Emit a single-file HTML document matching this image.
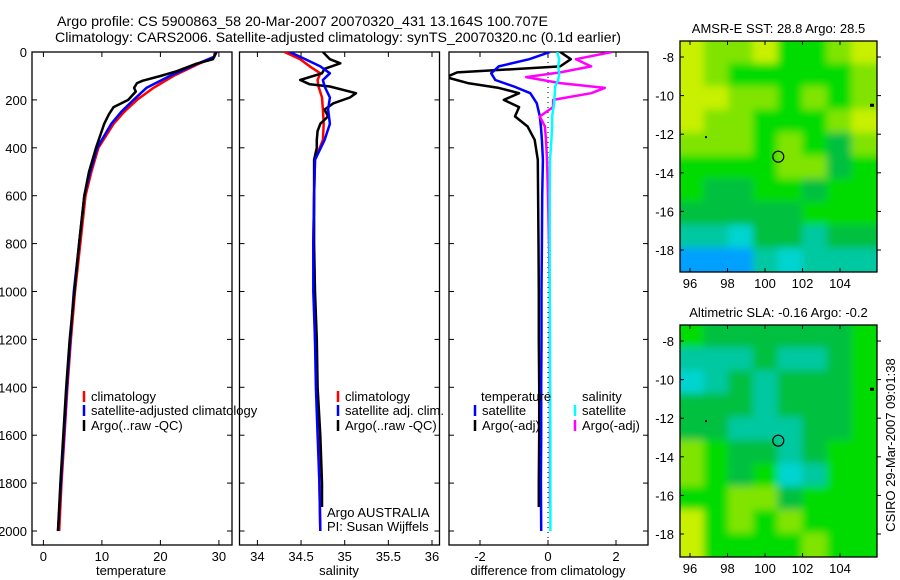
<!DOCTYPE html>
<html><head><meta charset="utf-8">
<style>
html,body{margin:0;padding:0;background:#fff;}
svg{display:block;font-family:"Liberation Sans",sans-serif;}
text{font-size:13px;fill:#000;}
</style></head>
<body>
<svg id="chart" width="900" height="580" viewBox="0 0 900 580" xmlns="http://www.w3.org/2000/svg">
<defs>
<filter id="blur1" filterUnits="userSpaceOnUse" x="600" y="0" width="300" height="580"><feGaussianBlur stdDeviation="4"/></filter>
<clipPath id="clipMap1"><rect x="680" y="41" width="197" height="231"/></clipPath>
<clipPath id="clipMap2"><rect x="680" y="325" width="197" height="232"/></clipPath>
<clipPath id="clipP1"><rect x="32" y="52" width="200" height="493"/></clipPath>
<clipPath id="clipP2"><rect x="239" y="52" width="201" height="493"/></clipPath>
<clipPath id="clipP3"><rect x="449" y="52" width="199" height="493"/></clipPath>
</defs>
<text x="57" y="26" textLength="491" lengthAdjust="spacingAndGlyphs" style="font-size:14px">Argo profile: CS 5900863_58 20-Mar-2007 20070320_431 13.164S 100.707E</text>
<text x="55" y="42" textLength="566" lengthAdjust="spacingAndGlyphs" style="font-size:14px">Climatology: CARS2006. Satellite-adjusted climatology: synTS_20070320.nc (0.1d earlier)</text>
<g id="g1"></g>
<g id="g2"></g>
<g id="g3"></g>
<g id="gm1"></g>
<g id="gm2"></g>
<text transform="translate(895,445) rotate(-90)" text-anchor="middle" style="font-size:13px">CSIRO 29-Mar-2007 09:01:38</text>
</svg>
<script>
// ---- data ----
const depthTicks=[0,200,400,600,800,1000,1200,1400,1600,1800,2000];
const tempTicks=[0,10,20,30];
const salTicks=[34,34.5,35,35.5,36];
const diffTicks=[-2,0,2];
const lonTicks=[96,98,100,102,104];
const latTicks=[-8,-10,-12,-14,-16,-18];

const tClimDepth=[0,20,50,100,150,200,250,300,400,500,600,800,1000,1200,1400,1600,1800,2000];
const tClim=[29.3,29.2,26.5,22.2,18.8,16.0,13.8,12.0,9.4,8.2,7.2,6.3,5.4,4.7,4.1,3.6,3.1,2.7];
const tSat=[29.4,29.2,26.2,21.6,17.6,15.4,13.3,11.6,9.2,8.0,7.0,6.1,5.2,4.6,4.0,3.5,3.0,2.5];
const tArgoDepth=[0,30,50,80,100,120,130,150,165,200,230,260,300,400,500,600,800,1000,1200,1400,1600,1800,2000];
const tArgo=[29.6,29.0,26.0,22.8,20.0,17.0,16.0,15.5,15.8,14.5,12.0,11.2,10.4,9.0,7.8,7.0,6.1,5.3,4.5,3.9,3.4,2.9,2.5];

const sDepth=[0,30,60,89,117,144,190,240,300,367,450,600,800,1000,1200,1400,1600,1800,2000];
const sClim=[34.31,34.49,34.60,34.72,34.69,34.70,34.74,34.75,34.76,34.75,34.66,34.65,34.64,34.65,34.66,34.68,34.70,34.71,34.72];
const sSat=[34.37,34.55,34.72,34.83,34.75,34.77,34.83,34.81,34.83,34.77,34.66,34.65,34.64,34.64,34.66,34.67,34.69,34.71,34.72];
const sArgoDepth=[0,30,47,70,89,117,135,144,172,190,214,240,269,300,330,367,400,450,600,800,1000,1200,1400,1600,1800,1900];
const sArgo=[34.75,34.83,34.95,34.77,34.74,34.49,34.60,34.83,35.13,35.06,34.87,34.77,34.81,34.72,34.69,34.68,34.68,34.65,34.65,34.65,34.66,34.68,34.69,34.72,34.74,34.74];

const dDepth=[0,30,60,89,117,144,172,214,269,311,367,450,600,800,1000,1200,1400,1600,1800,2000];
const dTSat=[0.06,-0.55,-1.45,-1.67,-1.55,-1.0,-0.52,-0.33,-0.24,-0.21,-0.18,-0.15,-0.17,-0.18,-0.19,-0.19,-0.2,-0.2,-0.21,-0.2];
const dDepthA=[0,30,60,85,105,130,150,172,200,230,269,311,367,450,600,800,1000,1200,1400,1600,1800,1900];
const dTArgo=[0.36,0.67,0.36,-2.67,-3.0,-2.36,-1.45,-0.85,-1.3,-0.85,-0.97,-0.6,-0.39,-0.3,-0.29,-0.28,-0.27,-0.27,-0.26,-0.26,-0.27,-0.27];
const dSArgo=[1.88,0.82,1.27,0.36,-0.64,0.36,1.67,1.27,0.15,0.15,-0.24,-0.09,-0.06,-0.03,0.0,0.03,0.05,0.05,0.06,0.06,0.06,0.06];
const dSSat=[0.27,0.33,0.3,0.33,0.3,0.21,0.2,0.18,0.12,0.12,0.1,0.06,0.05,0.05,0.05,0.06,0.06,0.07,0.07,0.07];

// map colour grids (rows north->south); letters = colour classes
const map1Rows=["YLLYGGLY","YLGGGGGL","YYLLGLGL","YLLGGGLY","LLLGLGDL","GGGGLLDG","GDDGGDGG","DDDDDGGG","CCTDDCDD","BBBCTCCC"];
const map2Rows=["GDDDDDDG","CCCDCCDG","TCDCDDDG","DDDCDDDG","DDCCCDDG","LGDDCDGG","LGDGTCGG","GGLLDGGG","YGLGLGGG","YGGGGLGG"];
const colorKey={Y:"#c8f000",L:"#80e400",G:"#00dc00",D:"#00c040",C:"#00c8a0",T:"#00d4d0",B:"#00a0ff"};
const floatLon=100.707, floatLat=-13.164;

// ---- scales ----
const NS="http://www.w3.org/2000/svg";
function el(tag,attrs,parent){const e=document.createElementNS(NS,tag);for(const k in attrs)e.setAttribute(k,attrs[k]);parent.appendChild(e);return e;}
const yD=d=>52+d*0.2395;
const xT=t=>43.4+t*5.85;
const xS=s=>344.7+(s-35)*87.3;
const xDf=v=>548+v*34;
const lonX=l=>690+(l-96)*18.75;
const lat1Y=l=>57+(-8-l)*19.3;
const lat2Y=l=>341+(-8-l)*19.3;

function frame(g,x0,x1,y0,y1,name){
  const r=el('rect',{x:x0,y:y0,width:x1-x0,height:y1-y0,fill:'none',stroke:'#000','stroke-width':1.3},g);
  
  
}
function line(g,xs,ys,fx,color,w,name,clip){
  const pts=xs.map((v,i)=>fx(v).toFixed(1)+','+yD(ys[i]).toFixed(1)).join(' ');
  const p=el('polyline',{points:pts,fill:'none',stroke:color,'stroke-width':w,'stroke-linejoin':'round','clip-path':'url(#'+clip+')'},g);
  
  
}
function txt(g,x,y,s,anchor,name){
  const t=el('text',{x:x,y:y,'text-anchor':anchor||'start'},g);t.textContent=s;
  
  
  return t;
}
function xticks(g,ticks,fx,y0,y1,name){
  ticks.forEach(v=>{const x=fx(v);
    el('line',{x1:x,x2:x,y1:y1,y2:y1-5,stroke:'#000'},g);
    el('line',{x1:x,x2:x,y1:y0,y2:y0+5,stroke:'#000'},g);
    txt(g,x,y1+16,String(v),'middle',name);
  });
}
function yticks(g,x0,x1,labels){
  depthTicks.forEach(d=>{const y=yD(d);
    el('line',{x1:x0,x2:x0+5,y1:y,y2:y,stroke:'#000'},g);
    el('line',{x1:x1,x2:x1-5,y1:y,y2:y,stroke:'#000'},g);
    if(labels)txt(g,x0-5,y+5,String(d),'end','depth-tick-label');
  });
}
function legend(g,x,y,color,label,name){
  const m=el('line',{x1:x,x2:x,y1:y-10,y2:y+1,stroke:color,'stroke-width':2.5},g);
  
  
  txt(g,x+7,y,label,'start',name);
}

// ---- panel 1: temperature ----
const g1=document.getElementById('g1');
frame(g1,32,232,52,545,'temperature-axes');
yticks(g1,32,232,true);
xticks(g1,tempTicks,xT,52,545,'temperature-tick-label');
line(g1,tClim,tClimDepth,xT,'#ff0000',2.5,'temperature-climatology-line','clipP1');
line(g1,tSat,tClimDepth,xT,'#0000ff',2.5,'temperature-satellite-line','clipP1');
line(g1,tArgo,tArgoDepth,xT,'#000000',2.5,'temperature-argo-line','clipP1');
txt(g1,131,575,'temperature','middle','x-axis-title-temperature');
legend(g1,84,401,'#ff0000','climatology','legend-climatology');
legend(g1,84,415,'#0000ff','satellite-adjusted climatology','legend-satellite-adjusted');
legend(g1,84,430,'#000000','Argo(..raw -QC)','legend-argo');

// ---- panel 2: salinity ----
const g2=document.getElementById('g2');
frame(g2,239.5,439.5,52,545,'salinity-axes');
yticks(g2,239.5,439.5,false);
xticks(g2,salTicks,xS,52,545,'salinity-tick-label');
line(g2,sClim,sDepth,xS,'#ff0000',2.5,'salinity-climatology-line','clipP2');
line(g2,sArgo,sArgoDepth,xS,'#000000',2.5,'salinity-argo-line','clipP2');
line(g2,sSat,sDepth,xS,'#0000ff',2.5,'salinity-satellite-line','clipP2');
txt(g2,339,575,'salinity','middle','x-axis-title-salinity');
legend(g2,338,401,'#ff0000','climatology','legend-sal-climatology');
legend(g2,338,415,'#0000ff','satellite adj. clim.','legend-sal-satellite');
legend(g2,338,430,'#000000','Argo(..raw -QC)','legend-sal-argo');
txt(g2,327,517,'Argo AUSTRALIA','start','argo-program-label');
txt(g2,327,531,'PI: Susan Wijffels','start','pi-label');

// ---- panel 3: difference ----
const g3=document.getElementById('g3');
frame(g3,449,648,52,545,'difference-axes');
yticks(g3,449,648,false);
xticks(g3,diffTicks,xDf,52,545,'difference-tick-label');
el('line',{x1:xDf(0),x2:xDf(0),y1:52,y2:545,stroke:'#000','stroke-dasharray':'1,4'},g3);
line(g3,dTArgo,dDepthA,xDf,'#000000',2.5,'diff-temperature-argo-line','clipP3');
line(g3,dTSat,dDepth,xDf,'#0000ff',2.5,'diff-temperature-satellite-line','clipP3');
line(g3,dSArgo,dDepthA,xDf,'#ff00ff',2.5,'diff-salinity-argo-line','clipP3');
line(g3,dSSat,dDepth,xDf,'#00ffff',2.5,'diff-salinity-satellite-line','clipP3');
txt(g3,548,575,'difference from climatology','middle','x-axis-title-difference');
txt(g3,481,401,'temperature','start','legend-temperature-heading');
txt(g3,582,401,'salinity','start','legend-salinity-heading');
legend(g3,475,415,'#0000ff','satellite','legend-diff-temp-satellite');
legend(g3,475,430,'#000000','Argo(-adj)','legend-diff-temp-argo');
legend(g3,575,415,'#00ffff','satellite','legend-diff-sal-satellite');
legend(g3,575,430,'#ff00ff','Argo(-adj)','legend-diff-sal-argo');

// ---- maps ----
function drawMap(g,rows,x0,y0,w,h,latY,clip,title,name){
  const cg=el('g',{'clip-path':'url(#'+clip+')'},g);
  const bg=el('g',{filter:'url(#blur1)'},cg);
  const nr=rows.length,nc=rows[0].length,cw=w/nc,ch=h/nr,pad=15;
  rows.forEach((row,r)=>{[...row].forEach((c,k)=>{
    let x=x0+k*cw-1,y=y0+r*ch-1,ww=cw+2,hh=ch+2;
    if(k===0){x-=pad;ww+=pad;} if(k===nc-1){ww+=pad;}
    if(r===0){y-=pad;hh+=pad;} if(r===nr-1){hh+=pad;}
    const cell=el('rect',{x:x,y:y,width:ww,height:hh,fill:colorKey[c]},bg);
    
    
  });});
  frame(g,x0,x0+w,y0,y0+h,name+'-frame');
  lonTicks.forEach(l=>{const x=lonX(l);
    el('line',{x1:x,x2:x,y1:y0,y2:y0+4,stroke:'#000'},g);
    el('line',{x1:x,x2:x,y1:y0+h,y2:y0+h-4,stroke:'#000'},g);
    txt(g,x,y0+h+16,String(l),'middle',name+'-lon-label');});
  latTicks.forEach(l=>{const y=latY(l);
    el('line',{x1:x0,x2:x0+4,y1:y,y2:y,stroke:'#000'},g);
    el('line',{x1:x0+w,x2:x0+w+4,y1:y,y2:y,stroke:'#000'},g);
    txt(g,x0-6,y+5,String(l),'end',name+'-lat-label');});
  const c=el('circle',{cx:lonX(floatLon),cy:latY(floatLat),r:5.5,fill:'none',stroke:'#000','stroke-width':1.2},g);
  
  
  el('rect',{x:870,y:latY(-10.5)-1.5,width:4,height:3,fill:'#000'},g);
  el('rect',{x:705,y:latY(-12.1),width:2,height:2,fill:'#000'},g);
  txt(g,x0+w/2,y0-8,title,'middle',name+'-title');
}
drawMap(document.getElementById('gm1'),map1Rows,680,41,197,231,lat1Y,'clipMap1','AMSR-E SST: 28.8 Argo: 28.5','sst-map');
drawMap(document.getElementById('gm2'),map2Rows,680,325,197,232,lat2Y,'clipMap2','Altimetric SLA: -0.16 Argo: -0.2','sla-map');
</script>
</body></html>
